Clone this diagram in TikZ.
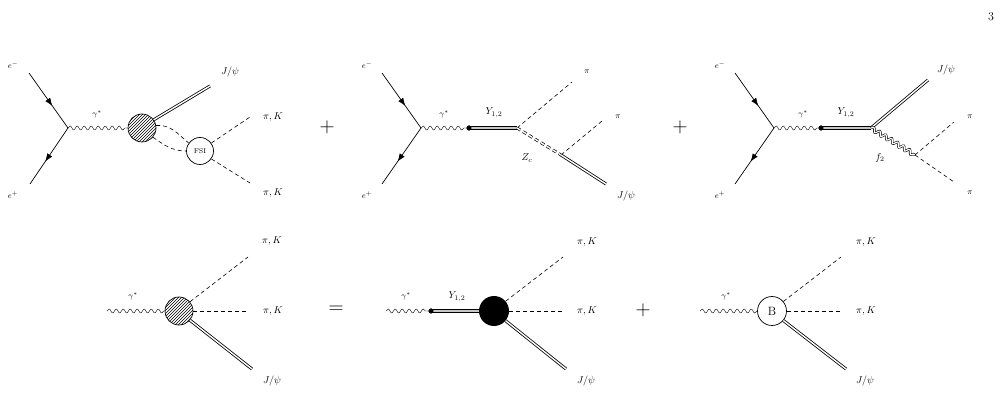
\documentclass[tikz,border=0pt]{standalone}
\usetikzlibrary{decorations.pathmorphing,decorations.markings,patterns,arrows.meta}
\begin{document}
\begin{tikzpicture}[x=1pt,y=-1pt,
 lbl/.style={font=\fontsize{10}{11}\selectfont,inner sep=0pt},
 slbl/.style={font=\fontsize{8}{9}\selectfont,inner sep=0pt},
 ferm/.style={line width=0.7pt,postaction={decorate},decoration={markings,mark=at position 0.6 with {\arrow{Latex[length=8pt,width=6pt]}}}},
 phot/.style={decorate,decoration={snake,segment length=7pt,amplitude=2pt}},
 dphot/.style={double,line width=0.6pt,double distance=1.2pt,decorate,decoration={snake,segment length=7pt,amplitude=2pt}},
 dbl/.style={double,double distance=1.4pt,line width=0.8pt},
 hdbl/.style={double=gray!45,double distance=2pt,line width=0.7pt},
 dsh/.style={line width=0.6pt,dash pattern=on 4pt off 3pt},
 ddsh/.style={double,double distance=1.4pt,line width=0.7pt,dash pattern=on 4pt off 3pt},
 hblob/.style={circle,draw,line width=0.7pt,minimum size=28pt,inner sep=0pt,pattern=north east lines},
 vdot/.style={circle,fill,minimum size=5pt,inner sep=0pt},
 op/.style={font=\fontsize{22}{22}\selectfont}]
\useasboundingbox (0,0) rectangle (1003,419);
\node[font=\fontsize{12}{12}\selectfont] (pg) at (991,17) {3};
% diagram 1
\coordinate (a1) at (29,73); \coordinate (v1) at (68,128); \coordinate (b1) at (30,184);
\node[slbl] (em1) at (13,65) {$e^-$}; \node[slbl] (ep1) at (13,195) {$e^+$};
\draw[ferm] (a1) -- (v1); \draw[ferm] (v1) -- (b1);
\node[hblob] (h1) at (142,128) {};
\draw[phot] (v1) -- (h1.west);
\node[slbl] (g1) at (97,114) {$\gamma^*$};
\coordinate (j1) at (210,86);
\draw[dbl] (h1.35) -- (j1);
\node[lbl] (jl1) at (230,72) {$J/\psi$};
\node[circle,draw,line width=0.7pt,minimum size=27pt,inner sep=0pt,fill=white,font=\fontsize{7}{8}\selectfont] (f1) at (200,151) {FSI};
\draw[dsh] (h1.10) to[out=5,in=140] (f1.145);
\draw[dsh] (h1.-40) to[out=-35,in=180] (f1.180);
\coordinate (p1a) at (250,117); \coordinate (p1b) at (250,183);
\draw[dsh] (f1.35) -- (p1a); \draw[dsh] (f1.-35) -- (p1b);
\node[lbl] (l1a) at (273,117) {$\pi,K$}; \node[lbl] (l1b) at (273,193) {$\pi,K$};
\node[op] (plus1) at (327,127) {$+$};
% diagram 2
\coordinate (a2) at (382,73); \coordinate (v2) at (421,128); \coordinate (b2) at (382,184);
\node[slbl] (em2) at (367,65) {$e^-$}; \node[slbl] (ep2) at (367,195) {$e^+$};
\draw[ferm] (a2) -- (v2); \draw[ferm] (v2) -- (b2);
\coordinate (y2) at (517,128);
\node[vdot] (d2) at (469,128) {};
\draw[hdbl] (d2.center) -- (y2);
\node[vdot] at (d2) {};
\draw[phot] (v2) -- (d2);
\node[slbl] (g2) at (444,114) {$\gamma^*$};
\node[lbl] (yl2) at (494,113) {$Y_{1,2}$};
\coordinate (p2a) at (572,82); \draw[dsh] (y2) -- (p2a);
\node[slbl] (l2a) at (587,72) {$\pi$};
\coordinate (z2) at (561,155); \draw[ddsh] (y2) -- (z2);
\node[lbl] (zl2) at (527,158) {$Z_c$};
\coordinate (p2b) at (602,121); \draw[dsh] (z2) -- (p2b);
\node[slbl] (l2b) at (618,117) {$\pi$};
\coordinate (j2) at (606,184); \draw[dbl] (z2) -- (j2);
\node[lbl] (jl2) at (626,196) {$J/\psi$};
\node[op] (plus2) at (680,127) {$+$};
% diagram 3
\coordinate (a3) at (735,73); \coordinate (v3) at (774,128); \coordinate (b3) at (735,184);
\node[slbl] (em3) at (720,65) {$e^-$}; \node[slbl] (ep3) at (720,195) {$e^+$};
\draw[ferm] (a3) -- (v3); \draw[ferm] (v3) -- (b3);
\coordinate (y3) at (871,128);
\node[vdot] (d3) at (821,128) {};
\draw[hdbl] (d3.center) -- (y3);
\node[vdot] at (d3) {};
\draw[phot] (v3) -- (d3);
\node[slbl] (g3) at (803,114) {$\gamma^*$};
\node[lbl] (yl3) at (846,113) {$Y_{1,2}$};
\coordinate (j3) at (928,80); \draw[dbl] (y3) -- (j3);
\node[lbl] (jl3) at (946,70) {$J/\psi$};
\coordinate (f3) at (915,155); \draw[dphot] (y3) -- (f3);
\node[lbl] (fl3) at (880,158) {$f_2$};
\coordinate (p3a) at (954,122); \coordinate (p3b) at (954,182);
\draw[dsh] (f3) -- (p3a); \draw[dsh] (f3) -- (p3b);
\node[slbl] (l3a) at (970,117) {$\pi$}; \node[slbl] (l3b) at (970,193) {$\pi$};
% row 2, diagram 4
\coordinate (s4) at (107,311);
\node[hblob] (h4) at (179,311) {};
\draw[phot] (s4) -- (h4.west);
\node[slbl] (g4) at (133,296) {$\gamma^*$};
\coordinate (q4a) at (248,257); \coordinate (q4b) at (248,311); \coordinate (q4c) at (252,369);
\draw[dsh] (h4.40) -- (q4a); \draw[dsh] (h4.east) -- (q4b); \draw[dbl] (h4.-40) -- (q4c);
\node[lbl] (l4a) at (272,241) {$\pi,K$}; \node[lbl] (l4b) at (273,311) {$\pi,K$}; \node[lbl] (l4c) at (272,381) {$J/\psi$};
\node[op] (eq) at (336,310) {$=$};
% diagram 5
\coordinate (s5) at (386,311);
\node[vdot] (d5) at (431,311) {};
\node[circle,fill,minimum size=30pt,inner sep=0pt] (h5) at (494,311) {};
\draw[hdbl] (d5.center) -- (h5.west);
\node[vdot] at (d5) {};
\draw[phot] (s5) -- (d5);
\node[slbl] (g5) at (406,296) {$\gamma^*$};
\node[lbl] (yl5) at (457,297) {$Y_{1,2}$};
\coordinate (q5a) at (563,257); \coordinate (q5b) at (563,311); \coordinate (q5c) at (566,369);
\draw[dsh] (h5.40) -- (q5a); \draw[dsh] (h5.east) -- (q5b); \draw[dbl] (h5.-40) -- (q5c);
\node[lbl] (l5a) at (587,242) {$\pi,K$}; \node[lbl] (l5b) at (587,311) {$\pi,K$}; \node[lbl] (l5c) at (586,381) {$J/\psi$};
\node[op] (plus3) at (643,310) {$+$};
% diagram 6
\coordinate (s6) at (700,311);
\node[circle,draw,line width=0.7pt,minimum size=29pt,inner sep=0pt,font=\fontsize{12}{12}\selectfont] (b6) at (772,311) {B};
\draw[phot] (s6) -- (b6.west);
\node[slbl] (g6) at (726,296) {$\gamma^*$};
\coordinate (q6a) at (841,257); \coordinate (q6b) at (841,311); \coordinate (q6c) at (846,369);
\draw[dsh] (b6.40) -- (q6a); \draw[dsh] (b6.east) -- (q6b); \draw[dbl] (b6.-40) -- (q6c);
\node[lbl] (l6a) at (866,242) {$\pi,K$}; \node[lbl] (l6b) at (866,311) {$\pi,K$}; \node[lbl] (l6c) at (865,381) {$J/\psi$};
\end{tikzpicture}
\end{document}
